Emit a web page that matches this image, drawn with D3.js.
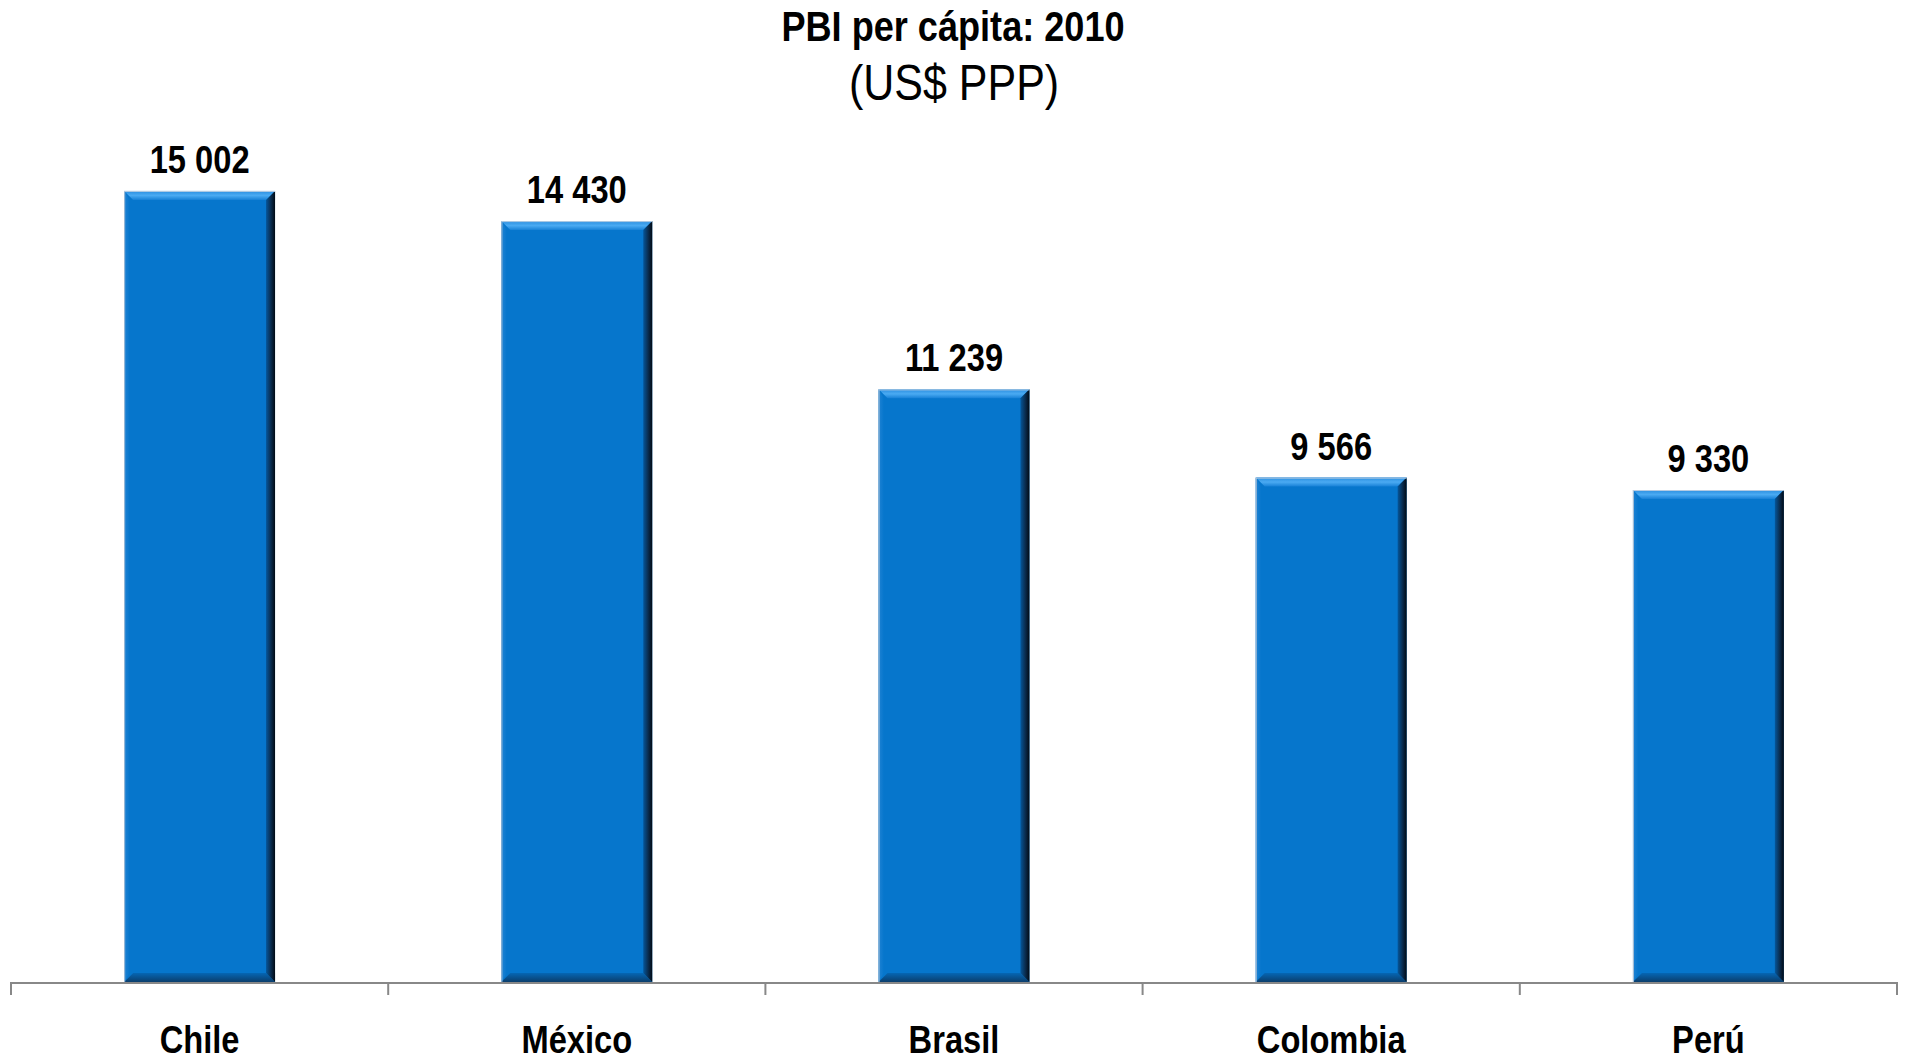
<!DOCTYPE html>
<html>
<head>
<meta charset="utf-8">
<script src="https://cdn.jsdelivr.net/npm/d3@7/dist/d3.min.js"></script>
<style>
  html, body { margin: 0; padding: 0; background: #fff; }
  svg { display: block; }
  text { font-family: "Liberation Sans", Arial, sans-serif; }
</style>
</head>
<body>
<svg id="chart" width="1906" height="1062"></svg>
<script>
const categories = ["Chile", "México", "Brasil", "Colombia", "Perú"];
const values = [15002, 14430, 11239, 9566, 9330];
const valueLabels = ["15 002", "14 430", "11 239", "9 566", "9 330"];
const titleText = "PBI per cápita: 2010";
const subtitleText = "(US$ PPP)";

const W = 1906, H = 1062;
const baseY = 982, left = 11, right = 1897;
const NARROW = 0.86;
const svg = d3.select("#chart");

const x = d3.scaleBand().domain(categories).range([left, right]).paddingInner(0.6).paddingOuter(0.3);
const xOuter = d3.scaleBand().domain(categories).range([left, right]);
const y = d3.scaleLinear().domain([0, 16000]).range([baseY, baseY - 0.05273 * 16000]);

function narrowText(sel, tx, ty) {
  sel.attr("x", 0).attr("y", 0)
     .attr("transform", (d, i) => `translate(${tx(d, i)},${ty(d, i)}) scale(${NARROW},1)`);
  return sel;
}

const defs = svg.append("defs");
const gRight = defs.append("linearGradient").attr("id", "gRight").attr("x1", 0).attr("x2", 1).attr("y1", 0).attr("y2", 0);
gRight.append("stop").attr("offset", "0%").attr("stop-color", "#05569a");
gRight.append("stop").attr("offset", "55%").attr("stop-color", "#0a2c4e");
gRight.append("stop").attr("offset", "100%").attr("stop-color", "#010a14");
const gTop = defs.append("linearGradient").attr("id", "gTop").attr("x1", 0).attr("x2", 0).attr("y1", 0).attr("y2", 1);
gTop.append("stop").attr("offset", "0%").attr("stop-color", "#2a8ee0");
gTop.append("stop").attr("offset", "50%").attr("stop-color", "#4aaaf2");
gTop.append("stop").attr("offset", "100%").attr("stop-color", "#1680d6");
const gBottom = defs.append("linearGradient").attr("id", "gBottom").attr("x1", 0).attr("x2", 0).attr("y1", 0).attr("y2", 1);
gBottom.append("stop").attr("offset", "0%").attr("stop-color", "#0566b4");
gBottom.append("stop").attr("offset", "100%").attr("stop-color", "#0b3e6c");
const gLeft = defs.append("linearGradient").attr("id", "gLeft").attr("x1", 0).attr("x2", 1).attr("y1", 0).attr("y2", 0);
gLeft.append("stop").attr("offset", "0%").attr("stop-color", "#1f83d4");
gLeft.append("stop").attr("offset", "100%").attr("stop-color", "#0676cc");

const bars = svg.append("g").selectAll("g").data(categories).join("g");
const bv = 9; // bevel size
bars.each(function(c, i) {
  const g = d3.select(this);
  const x0 = x(c), x1 = x(c) + x.bandwidth();
  const y0 = y(values[i]), y1 = y(0);
  g.append("rect").attr("x", x0).attr("y", y0).attr("width", x1 - x0).attr("height", y1 - y0).attr("fill", "#0676cc");
  g.append("polygon").attr("points", [[x0, y0], [x0 + bv*0.6, y0 + bv], [x0 + bv*0.6, y1 - bv], [x0, y1]].join(" ")).attr("fill", "url(#gLeft)");
  g.append("polygon").attr("points", [[x0, y1], [x0 + bv, y1 - bv], [x1 - bv, y1 - bv], [x1, y1]].join(" ")).attr("fill", "url(#gBottom)");
  g.append("polygon").attr("points", [[x0, y0], [x1, y0], [x1 - bv, y0 + bv], [x0 + bv, y0 + bv]].join(" ")).attr("fill", "url(#gTop)");
  g.append("polygon").attr("points", [[x1, y0], [x1, y1], [x1 - bv, y1 - bv], [x1 - bv, y0 + bv]].join(" ")).attr("fill", "url(#gRight)");
  g.append("line").attr("x1", x0 + 0.5).attr("x2", x0 + 0.5).attr("y1", y0).attr("y2", y1).attr("stroke", "#a9bfd6").attr("stroke-width", 1);
  g.append("line").attr("x1", x0).attr("x2", x1).attr("y1", y0 + 0.5).attr("y2", y0 + 0.5).attr("stroke", "#b8cde2").attr("stroke-width", 1);
});

// value labels
narrowText(svg.append("g").selectAll("text").data(categories).join("text"),
    c => x(c) + x.bandwidth() / 2, (c, i) => y(values[i]) - 18)
  .attr("text-anchor", "middle")
  .attr("font-size", 38).attr("font-weight", "bold").attr("fill", "#000")
  .text((c, i) => valueLabels[i]);

// axis
svg.append("line").attr("x1", left).attr("x2", right).attr("y1", baseY + 1).attr("y2", baseY + 1).attr("stroke", "#888").attr("stroke-width", 2);
const tickXs = categories.map(c => xOuter(c)).concat([right]);
svg.append("g").selectAll("line").data(tickXs).join("line")
  .attr("x1", d => d).attr("x2", d => d).attr("y1", baseY).attr("y2", baseY + 13)
  .attr("stroke", "#888").attr("stroke-width", 2);

// category labels
narrowText(svg.append("g").selectAll("text").data(categories).join("text"),
    c => x(c) + x.bandwidth() / 2, () => 1053)
  .attr("text-anchor", "middle")
  .attr("font-size", 38).attr("font-weight", "bold").attr("fill", "#000")
  .text(c => c);

// titles
narrowText(svg.append("text").datum(titleText), () => W / 2, () => 41)
  .attr("text-anchor", "middle")
  .attr("font-size", 42).attr("font-weight", "bold").attr("fill", "#000").text(titleText);
narrowText(svg.append("text").datum(subtitleText), () => W / 2 + 1, () => 100)
  .attr("text-anchor", "middle")
  .attr("font-size", 50).attr("font-weight", "normal").attr("fill", "#000").text(subtitleText);
</script>
</body>
</html>
